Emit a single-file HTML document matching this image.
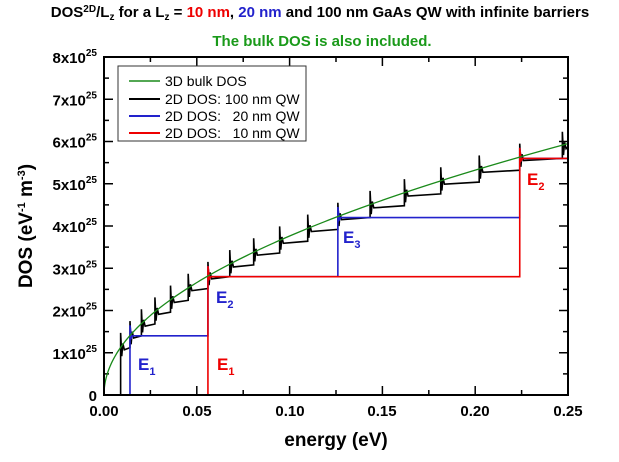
<!DOCTYPE html>
<html><head><style>body{margin:0;background:#fff}svg text{font-family:"Liberation Sans",Arial,sans-serif}</style></head>
<body>
<svg id="s" width="619" height="457" xmlns="http://www.w3.org/2000/svg">
<text x="320" y="17" text-anchor="middle" font-size="15" font-weight="bold">DOS<tspan font-size="10" dy="-5">2D</tspan><tspan dy="5">/L</tspan><tspan font-size="10" dy="3">z</tspan><tspan dy="-3"> for a L</tspan><tspan font-size="10" dy="3">z</tspan><tspan dy="-3"> = </tspan><tspan fill="#e00">10 nm</tspan>, <tspan fill="#22c">20 nm</tspan> and 100 nm GaAs QW with infinite barriers</text>
<text x="322" y="46" text-anchor="middle" font-size="15" font-weight="bold" fill="#1a9a1a">The bulk DOS is also included.</text>
<g id="plot"></g>
<rect x="104" y="57" width="464" height="338" fill="none" stroke="#000" stroke-width="2"/>
<rect x="118" y="66" width="188" height="75" fill="#fff" stroke="#333" stroke-width="1"/>
<g font-size="14">
<line x1="129" y1="81" x2="160" y2="81" stroke="#1a8a1a" stroke-width="1.5"/><text x="165" y="86">3D bulk DOS</text>
<line x1="129" y1="99" x2="160" y2="99" stroke="#000" stroke-width="2"/><text x="165" y="104">2D DOS: 100 nm QW</text>
<line x1="129" y1="116" x2="160" y2="116" stroke="#22c" stroke-width="2"/><text x="165" y="121">2D DOS:&#160;&#160;&#160;20 nm QW</text>
<line x1="129" y1="133" x2="160" y2="133" stroke="#e00" stroke-width="2"/><text x="165" y="138">2D DOS:&#160;&#160;&#160;10 nm QW</text>
</g>
<g font-size="15" font-weight="bold" text-anchor="middle">
<text x="104" y="416">0.00</text><text x="197" y="416">0.05</text><text x="290" y="416">0.10</text><text x="382" y="416">0.15</text><text x="475" y="416">0.20</text><text x="568" y="416">0.25</text>
</g>
<text x="336" y="446" text-anchor="middle" font-size="19" font-weight="bold">energy (eV)</text>
<text transform="translate(32,226) rotate(-90)" text-anchor="middle" font-size="19" font-weight="bold">DOS (eV<tspan font-size="11" dy="-7">-1</tspan><tspan dy="7"> m</tspan><tspan font-size="11" dy="-7">-3</tspan><tspan dy="7">)</tspan></text>
<g font-size="17" font-weight="bold">
<text x="217" y="370" fill="#e00">E<tspan font-size="11" dy="5">1</tspan></text>
<text x="138" y="370" fill="#22c">E<tspan font-size="11" dy="5">1</tspan></text>
<text x="216" y="303" fill="#22c">E<tspan font-size="11" dy="5">2</tspan></text>
<text x="343" y="243" fill="#22c">E<tspan font-size="11" dy="5">3</tspan></text>
<text x="527" y="185" fill="#e00">E<tspan font-size="11" dy="5">2</tspan></text>
</g>
</svg>
<script>
var X=e=>104+e*1856,Y=d=>395-d*42.25,g=document.getElementById('plot'),s=document.getElementById('s'),ns='http://www.w3.org/2000/svg';
function el(t,a,p){var e=document.createElementNS(ns,t);for(var k in a)e.setAttribute(k,a[k]);(p||g).appendChild(e);return e}
for(var i=0;i<=16;i++){var y=395-i*338/16,l=i%2?5:9;el('line',{x1:104,y1:y,x2:104+l,y2:y,stroke:'#000','stroke-width':1.5});el('line',{x1:568,y1:y,x2:568-l,y2:y,stroke:'#000','stroke-width':1.5});
if(i%2==0){var v=i/2,t=el('text',{x:97,y:y+6,'text-anchor':'end','font-size':15,'font-weight':'bold'},s);t.innerHTML=v==0?'0':v+'x10<tspan font-size="10" dy="-7">25</tspan>';}}
for(var i=0;i<=10;i++){var x=104+i*46.4,l=i%2?5:9;el('line',{x1:x,y1:395,x2:x,y2:395-l,stroke:'#000','stroke-width':1.5});el('line',{x1:x,y1:57,x2:x,y2:57+l,stroke:'#000','stroke-width':1.5});}
function stair(E1,h,col,w){var p='M'+X(0)+','+Y(0),lev=0;for(var n=1;E1*n*n<=0.25;n++){var e=E1*n*n;p+=' L'+X(e)+','+Y(lev);lev=n*h;p+=' L'+X(e)+','+Y(lev+0.25)+' L'+X(e+0.0008)+','+Y(lev-0.05)+' L'+X(e+0.0016)+','+Y(lev);}p+=' L'+X(0.25)+','+Y(lev);el('path',{d:p,fill:'none',stroke:col,'stroke-width':w});}
var p='M'+X(0.0105)+','+Y(0),lev=0;for(var n=4;0.00056*n*n<=0.25;n++){var e=0.00056*n*n;p+=' L'+X(e)+','+Y(lev);lev=n*0.28;p+=' L'+X(e)+','+Y(lev+0.35)+' L'+X(e+0.0006)+','+Y(lev-0.2)+' L'+X(e+0.0012)+','+Y(lev+0.1)+' L'+X(e+0.002)+','+Y(lev-0.05);}
p+=' L'+X(0.25)+','+Y(lev);el('path',{d:p,fill:'none',stroke:'#000','stroke-width':1.6});
stair(0.014,1.4,'#22c',1.6);
stair(0.056,2.8,'#e00',1.6);
var q='';for(var i=0;i<=200;i++){var e=0.25*i*i/40000;q+=(i?' L':'M')+X(e)+','+Y(11.9*Math.sqrt(e));}
el('path',{d:q,fill:'none',stroke:'#1a8a1a','stroke-width':1.3});
</script>
</body></html>
